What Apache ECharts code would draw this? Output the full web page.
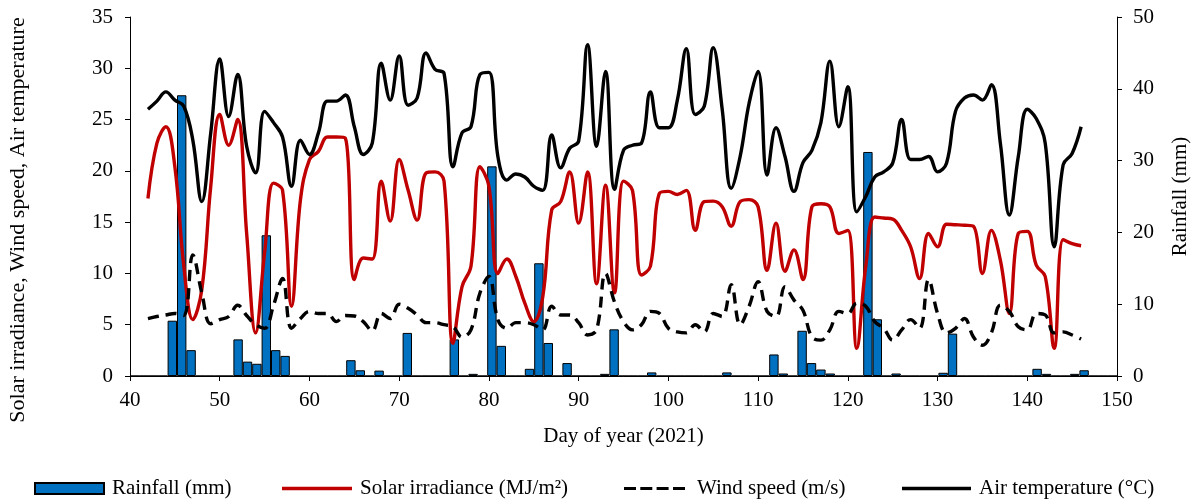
<!DOCTYPE html>
<html>
<head>
<meta charset="utf-8">
<script src="https://cdn.jsdelivr.net/npm/echarts@6/dist/echarts.min.js"></script>
<style>
html,body{margin:0;padding:0;background:#fff;}
#chart{width:1194px;height:504px;}
</style>
</head>
<body>
<div id="chart"></div>
<script>
// Day of year (2021)
const days = [42,43,44,45,46,47,48,49,50,51,52,53,54,55,56,57,58,59,60,61,62,63,64,65,66,67,68,69,70,71,72,73,74,75,76,77,78,79,80,81,82,83,84,85,86,87,88,89,90,91,92,93,94,95,96,97,98,99,100,101,102,103,104,105,106,107,108,109,110,111,112,113,114,115,116,117,118,119,120,121,122,123,124,125,126,127,128,129,130,131,132,133,134,135,136,137,138,139,140,141,142,143,144,145,146];

// Rainfall (mm), one value per category (right axis)
const rainfall = [0,0,0,0,7.7,39.1,3.6,0,0,0,0,5.1,2.0,1.7,19.6,3.6,2.8,0,0,0,0,0,0,2.2,0.8,0,0.75,0,0,6.0,0,0,0,0,5.1,0,0.3,0,29.2,4.2,0,0,1.0,15.7,4.6,0,1.8,0,0,0,0.3,6.5,0,0,0,0.5,0,0,0,0,0,0,0,0.5,0,0,0,0,3.0,0.35,0,6.3,1.8,0.9,0.35,0,0,0,31.2,7.9,0,0.35,0,0,0,0,0.45,5.9,0,0,0,0,0,0,0,0,1.0,0.3,0,0,0.3,0.8,0,0,0];

// Solar irradiance (MJ/m²)
const solar = [17.3,22.7,24.3,20.4,10.7,5.5,8.4,18.5,25.5,22.5,25.0,13.9,4.2,12.0,18.8,18.1,6.8,17.2,21.1,21.9,23.3,23.3,23.2,9.4,11.5,11.4,19.0,15.1,21.1,18.1,15.2,19.8,19.9,19.0,3.2,8.7,10.7,20.4,18.5,10.0,11.4,9.7,7.1,5.3,7.7,16.2,17.0,19.9,14.9,19.9,9.0,18.6,8.1,19.0,18.1,9.85,10.7,17.8,18.0,17.7,18.1,14.2,17.0,17.05,16.5,14.6,17.0,17.2,16.5,10.3,14.9,10.2,12.3,9.4,16.5,16.8,16.5,13.9,14.2,2.7,10.7,15.5,15.4,15.3,14.2,12.6,9.5,13.9,12.6,14.8,14.75,14.7,14.6,10.0,14.2,11.3,6.1,13.9,14.1,10.8,9.7,2.7,13.3,12.9,12.7];

// Wind speed (m/s)
const wind = [5.6,5.8,5.95,6.1,5.9,11.8,8.1,5.1,5.5,5.8,6.9,5.9,5.0,4.65,6.9,9.5,4.65,5.6,6.3,6.1,6.1,5.3,5.9,5.85,5.3,4.4,6.1,5.6,7.0,6.6,5.95,5.2,5.2,5.0,4.8,3.8,4.5,8.1,9.7,5.5,4.65,5.2,5.2,5.0,4.5,6.8,5.95,5.95,5.2,4.0,4.5,10.0,7.2,5.3,4.5,5.0,6.3,6.1,4.65,4.3,4.2,5.0,4.3,6.1,5.8,8.9,5.0,6.8,9.2,6.3,5.8,8.7,7.4,6.4,3.8,3.5,4.5,6.3,6.1,7.1,6.8,5.3,4.65,3.5,4.5,5.5,4.65,9.4,6.1,4.2,4.65,5.6,3.8,3.0,4.2,6.9,6.3,4.8,4.5,6.1,5.95,4.2,4.3,4.0,3.6];

// Air temperature (°C)
const airTemp = [26.0,26.8,27.7,26.9,26.3,23.0,17.0,23.7,30.9,25.3,29.4,22.4,19.8,25.8,24.7,23.3,18.5,23.0,21.6,23.7,26.8,26.8,27.4,24.3,21.6,22.7,30.5,26.9,31.2,26.4,27.1,31.5,29.9,29.5,20.4,23.7,24.3,29.4,29.6,21.4,19.1,19.7,19.4,18.5,18.1,23.5,20.3,22.2,22.9,32.3,22.4,29.7,18.2,22.0,22.5,22.7,27.7,24.2,24.2,26.9,31.9,25.5,26.3,32.0,26.0,18.3,21.4,26.6,29.7,19.6,24.2,21.4,18.0,20.8,22.0,24.7,30.7,24.3,28.2,16.0,17.5,19.4,19.9,20.75,25.0,21.1,21.1,21.4,19.9,20.75,25.8,27.1,27.4,26.9,28.4,22.7,15.7,21.4,26.0,25.1,22.7,12.6,20.6,21.7,24.3];

const xTicks = [40,150,10];   // min, max, interval of day axis
const leftTicks = [0,35,5];
const rightTicks = [0,50,10];

const FONT = '"Liberation Serif", "Times New Roman", serif';
const FS = 21;
const pair = (vals) => vals.map((v, i) => [days[i], v]);

const chart = echarts.init(document.getElementById('chart'), null, {renderer: 'canvas'});

const axisCommon = {
  axisLine: {show: true, lineStyle: {color: '#000', width: 1}},
  axisTick: {show: true, inside: false, length: 5, lineStyle: {color: '#000', width: 1}},
  splitLine: {show: false},
  axisLabel: {color: '#000', fontFamily: FONT, fontSize: FS}
};

function legendItem(name, left, width, height, icon, gap) {
  const o = {
    data: [name],
    left: left,
    top: 478,
    padding: 0,
    itemWidth: width,
    itemHeight: height,
    selectedMode: false,
    textStyle: {fontFamily: FONT, fontSize: FS, color: '#000', padding: [0, 0, 0, gap]}
  };
  if (icon) o.icon = icon;
  return o;
}

const dashIcon = 'path://M0,0h12v3h-12zM16.3,0h12v3h-12zM32.6,0h12v3h-12zM49,0h12v3h-12z';

chart.setOption({
  animation: false,
  backgroundColor: '#fff',
  grid: {left: 130, right: 77, top: 17, bottom: 128, containLabel: false, outerBoundsMode: 'none'},
  xAxis: [
    Object.assign({}, axisCommon, {
      type: 'value', min: xTicks[0], max: xTicks[1], interval: xTicks[2],
      position: 'bottom',
      axisLabel: Object.assign({}, axisCommon.axisLabel, {margin: 14}),
      name: 'Day of year (2021)', nameLocation: 'middle', nameGap: 50,
      nameTextStyle: {fontFamily: FONT, fontSize: FS, color: '#000'}
    }),
    {
      type: 'category', data: days, show: false, boundaryGap: true, position: 'bottom'
    }
  ],
  yAxis: [
    Object.assign({}, axisCommon, {
      type: 'value', min: leftTicks[0], max: leftTicks[1], interval: leftTicks[2],
      position: 'left',
      axisLabel: Object.assign({}, axisCommon.axisLabel, {margin: 17})
    }),
    Object.assign({}, axisCommon, {
      type: 'value', min: rightTicks[0], max: rightTicks[1], interval: rightTicks[2],
      position: 'right',
      axisLabel: Object.assign({}, axisCommon.axisLabel, {margin: 16}),
      name: 'Rainfall (mm)', nameLocation: 'middle', nameRotate: 90, nameGap: 53,
      nameTextStyle: {fontFamily: FONT, fontSize: FS, color: '#000'}
    })
  ],
  graphic: [{
    type: 'text',
    x: 18, y: 220,
    rotation: Math.PI / 2,
    style: {
      text: 'Solar irradiance, Wind speed, Air temperature',
      font: '22px ' + FONT,
      fill: '#000',
      align: 'center', verticalAlign: 'middle',
      textAlign: 'center', textVerticalAlign: 'middle'
    }
  }],
  legend: [
    legendItem('Rainfall (mm)', 34, 69, 11, 'rect', 3),
    legendItem('Solar irradiance (MJ/m²)', 282, 70, 3.5, 'rect', 3),
    legendItem('Wind speed (m/s)', 624, 61, 3.5, dashIcon, 7),
    legendItem('Air temperature (°C)', 902, 69, 3.5, 'rect', 3)
  ],
  series: [
    {
      name: 'Rainfall (mm)', type: 'bar',
      xAxisIndex: 1, yAxisIndex: 1,
      data: rainfall,
      barCategoryGap: '0%',
      itemStyle: {color: '#0070C0', borderColor: '#000', borderWidth: 1}
    },
    {
      name: 'Solar irradiance (MJ/m²)', type: 'line',
      xAxisIndex: 0, yAxisIndex: 0,
      data: pair(solar), smooth: 0.4, symbol: 'none',
      lineStyle: {color: '#C00000', width: 3.4},
      itemStyle: {color: '#C00000'}
    },
    {
      name: 'Wind speed (m/s)', type: 'line',
      xAxisIndex: 0, yAxisIndex: 0,
      data: pair(wind), smooth: 0.4, symbol: 'none',
      lineStyle: {color: '#000', width: 3.4, type: [11, 7]},
      itemStyle: {color: '#000'}
    },
    {
      name: 'Air temperature (°C)', type: 'line',
      xAxisIndex: 0, yAxisIndex: 0,
      data: pair(airTemp), smooth: 0.4, symbol: 'none',
      lineStyle: {color: '#000', width: 3.4},
      itemStyle: {color: '#000'}
    }
  ]
});
</script>
</body>
</html>
